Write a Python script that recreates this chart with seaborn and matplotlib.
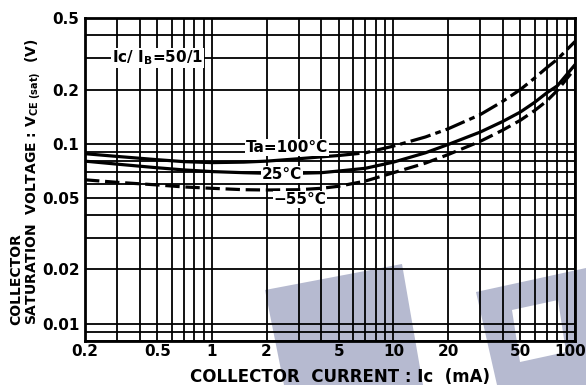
import numpy as np
import pandas as pd
import matplotlib
matplotlib.use("Agg")
import matplotlib.pyplot as plt
from matplotlib.patches import Polygon, PathPatch
from matplotlib.path import Path
from matplotlib.transforms import ScaledTranslation
import seaborn as sns

# Collector current (mA) and saturation voltage VCE(sat) (V), Ic/IB = 50/1
ic_ma = [0.2, 0.3, 0.5, 0.7, 1, 1.5, 2, 3, 4, 5, 7, 10, 15, 20, 30, 40, 50, 60, 70, 80, 100]
vce_100c = [0.088, 0.085, 0.0815, 0.0795, 0.0785, 0.079, 0.080, 0.0825, 0.0845, 0.086, 0.089,
            0.097, 0.109, 0.121, 0.145, 0.172, 0.200, 0.232, 0.265, 0.295, 0.370]
vce_25c = [0.080, 0.077, 0.0735, 0.0715, 0.070, 0.069, 0.0685, 0.0685, 0.069, 0.0705, 0.073,
           0.079, 0.089, 0.099, 0.116, 0.133, 0.150, 0.170, 0.192, 0.210, 0.275]
vce_m55c = [0.063, 0.061, 0.059, 0.0575, 0.0565, 0.0555, 0.0553, 0.0555, 0.0565, 0.058, 0.062,
            0.069, 0.078, 0.087, 0.103, 0.119, 0.135, 0.153, 0.173, 0.198, 0.262]

x_ticks = [0.2, 0.5, 1, 2, 5, 10, 20, 50, 100]
x_tick_labels = ["0.2", "0.5", "1", "2", "5", "10", "20", "50", "100"]
y_ticks = [0.01, 0.02, 0.05, 0.1, 0.2, 0.5]
y_tick_labels = ["0.01", "0.02", "0.05", "0.1", "0.2", "0.5"]

sns.set_theme(style="white")
plt.rcParams["font.family"] = ["DejaVu Sans"]
plt.rcParams["font.weight"] = "bold"
plt.rcParams["mathtext.default"] = "bf"
plt.rcParams["text.color"] = "black"
plt.rcParams["xtick.color"] = "black"
plt.rcParams["ytick.color"] = "black"

W, H = 586, 385
fig = plt.figure(figsize=(W / 100, H / 100), dpi=100)
fig.patch.set_facecolor("white")


def fx(px):
    return px / W


def fy(py):
    return 1 - py / H


# faint background watermark shapes
wm_color = "#b6bad0"
bar = Polygon([(fx(265), fy(290)), (fx(402), fy(264)), (fx(423), fy(385)), (fx(284), fy(385))],
              closed=True, transform=fig.transFigure, facecolor=wm_color, edgecolor="none", zorder=-5)
fig.patches.append(bar)
outer = [(fx(476), fy(292)), (fx(586), fy(268)), (fx(586), fy(385)), (fx(497), fy(385)), (fx(476), fy(292))]
inner = [(fx(512), fy(310)), (fx(558), fy(300)), (fx(566), fy(352)), (fx(520), fy(362)), (fx(512), fy(310))]
codes = [Path.MOVETO] + [Path.LINETO] * 3 + [Path.CLOSEPOLY]
p_path = Path(outer + inner[::-1], codes + codes)
fig.patches.append(PathPatch(p_path, transform=fig.transFigure, facecolor=wm_color,
                             edgecolor="none", zorder=-5))

ax = fig.add_axes([fx(85), fy(341), (575 - 85) / W, (341 - 18) / H])
ax.set_facecolor("none")
ax.set_xscale("log")
ax.set_yscale("log")
ax.set_xlim(0.2, 100)
ax.set_ylim(0.008, 0.5)

# log-paper grid: every 1..9 multiple of each decade
x_minor = [k * 10.0 ** e for e in range(-1, 2) for k in range(1, 10)]
x_minor = [v for v in x_minor if 0.2 <= v <= 100 and not any(np.isclose(v, t) for t in x_ticks)]
y_minor = [k * 10.0 ** e for e in range(-3, 0) for k in range(1, 10)]
y_minor = [v for v in y_minor if 0.008 <= v <= 0.5 and not any(np.isclose(v, t) for t in y_ticks)]
ax.set_xticks(x_ticks)
ax.set_xticklabels(x_tick_labels)
ax.set_xticks(x_minor, minor=True)
ax.set_xticklabels([], minor=True)
ax.set_yticks(y_ticks)
ax.set_yticklabels(y_tick_labels)
ax.set_yticks(y_minor, minor=True)
ax.set_yticklabels([], minor=True)
ax.grid(which="both", color="black", linewidth=1.3)
ax.set_axisbelow(True)
ax.tick_params(which="both", length=0, labelsize=11, colors="black")
ax.tick_params(axis="x", pad=2)
ax.tick_params(axis="y", pad=4)
for lab in ax.get_xticklabels() + ax.get_yticklabels():
    lab.set_fontweight("bold")
last = ax.get_xticklabels()[-1]
last.set_horizontalalignment("right")
last.set_transform(last.get_transform() + ScaledTranslation(0.11, 0, fig.dpi_scale_trans))
for sp in ax.spines.values():
    sp.set_color("black")
    sp.set_linewidth(2)
    sp.set_visible(True)

df = pd.DataFrame({"ic": ic_ma, "t100": vce_100c, "t25": vce_25c, "tm55": vce_m55c})
lw = 2.3
solid_part = df[df["ic"] <= 5]
dash_part = df[df["ic"] >= 5]
sns.lineplot(data=solid_part, x="ic", y="t100", ax=ax, color="black", linewidth=lw,
             estimator=None, sort=False)
sns.lineplot(data=dash_part, x="ic", y="t100", ax=ax, color="black", linewidth=lw,
             estimator=None, sort=False, linestyle=(0, (6.5, 1.6, 1.8, 1.6)))
sns.lineplot(data=df, x="ic", y="t25", ax=ax, color="black", linewidth=lw,
             estimator=None, sort=False)
sns.lineplot(data=df, x="ic", y="tm55", ax=ax, color="black", linewidth=lw,
             estimator=None, sort=False, linestyle=(0, (4.5, 1.8)))
ax.set_xlabel("")
ax.set_ylabel("")

box = dict(facecolor="white", edgecolor="none", pad=0.6)
ax.text(0.50, 0.30, "Ic/ I$_B$=50/1", ha="center", va="center", fontsize=11, bbox=box, zorder=5)
ax.text(2.6, 0.095, "Ta=100°C", ha="center", va="center", fontsize=11, bbox=box, zorder=5)
ax.text(2.44, 0.0675, "25°C", ha="center", va="center", fontsize=11, bbox=box, zorder=5)
ax.text(3.05, 0.049, "\u221255°C", ha="center", va="center", fontsize=11, bbox=box, zorder=5)

fig.text(fx(16), fy(325), "COLLECTOR", rotation=90, ha="center", va="bottom",
         fontsize=10, fontweight="bold")
fig.text(fx(33), fy(325), "SATURATION  VOLTAGE : V$_{CE\\ (sat)}$  (V)", rotation=90,
         ha="center", va="bottom", fontsize=10, fontweight="bold")
fig.text(fx(340), fy(377), "COLLECTOR  CURRENT : Ic  (mA)", ha="center", va="center",
         fontsize=12, fontweight="bold")

fig.savefig("out.png", dpi=100)
